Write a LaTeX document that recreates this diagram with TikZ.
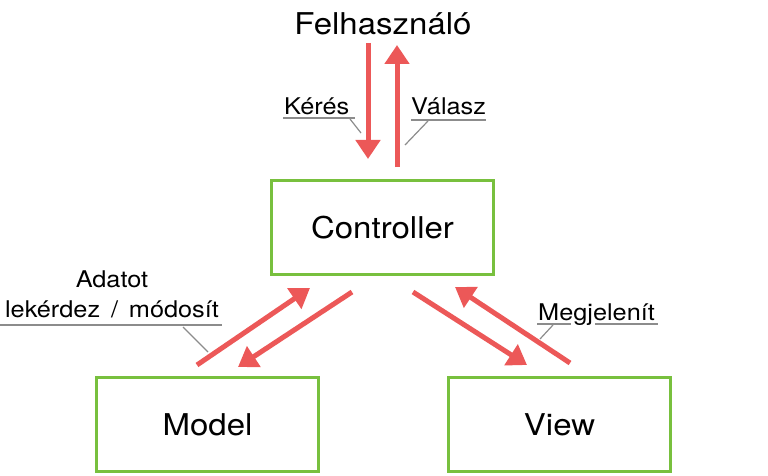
\documentclass[tikz,border=0pt]{standalone}
\usepackage{fontspec}
\setmainfont{TeX Gyre Heros}[FakeStretch=1.1]
\usetikzlibrary{arrows.meta}
\definecolor{boxgreen}{RGB}{120,192,62}
\definecolor{arrred}{RGB}{236,88,88}
\definecolor{leadgray}{RGB}{140,140,140}
\tikzset{
  mvcbox/.style={draw=boxgreen, line width=3.8pt, minimum width=222pt, minimum height=94pt, inner sep=0pt, font=\fontsize{30}{36}\selectfont, text=black},
  bigtext/.style={inner sep=0pt, font=\fontsize{30}{36}\selectfont},
  flow/.style={draw=arrred, line width=5pt, -{Triangle[length=19pt,width=24pt]}},
  lbl/.style={inner sep=0pt, font=\fontsize{23}{28}\selectfont},
  uline/.style={draw=leadgray, line width=1.5pt},
  leader/.style={draw=leadgray, line width=1.2pt},
}
\begin{document}
\begin{tikzpicture}[x=1pt,y=-1pt]
\useasboundingbox (0,0) rectangle (768,476);
% boxes
\node[mvcbox] (ctrl) at (382.5,227.5) {Controller};
\node[mvcbox] (model) at (207.5,424.5) {Model};
\node[mvcbox] (view) at (559.5,424.5) {View};
\node[bigtext, anchor=base] (user) at (383,35) {Felhasználó};
% arrow end points
\coordinate (k1) at (368,43);  \coordinate (k2) at (368,159);
\coordinate (v1) at (397,167); \coordinate (v2) at (397,45);
\coordinate (mu1) at (197,365); \coordinate (mu2) at (310,288);
\coordinate (md1) at (352,292); \coordinate (md2) at (238,367);
\coordinate (vd1) at (413,292); \coordinate (vd2) at (527,365);
\coordinate (vu1) at (570,363); \coordinate (vu2) at (455,287);
\draw[flow] (k1) -- (k2);
\draw[flow] (v1) -- (v2);
\draw[flow] (mu1) -- (mu2);
\draw[flow] (md1) -- (md2);
\draw[flow] (vd1) -- (vd2);
\draw[flow] (vu1) -- (vu2);
% labels
\node[lbl, anchor=base west] (keres) at (284,114) {Kérés};
\draw[uline] (283,118) -- (355,118);
\coordinate (kl1) at (350,119); \coordinate (kl2) at (361,133);
\draw[leader] (kl1) -- (kl2);
\node[lbl, anchor=base west] (valasz) at (411,115) {Válasz};
\draw[uline] (411,120) -- (486,120);
\coordinate (vl1) at (428,121); \coordinate (vl2) at (405,145);
\draw[leader] (vl1) -- (vl2);
\node[lbl, anchor=base] (adatot) at (112,287) {Adatot};
\node[lbl, anchor=base] (lekerdez) at (112,317) {lekérdez \,/\, módosít};
\draw[uline] (0,325) -- (222,325);
\coordinate (al1) at (183,327); \coordinate (al2) at (208,352);
\draw[leader] (al1) -- (al2);
\node[lbl, anchor=base west] (megj) at (538,320) {Megjelenít};
\draw[uline] (537,324) -- (571,324);
\draw[uline] (595,324) -- (658,324);
\coordinate (ml1) at (553,325); \coordinate (ml2) at (540,339);
\draw[leader] (ml1) -- (ml2);
\end{tikzpicture}
\end{document}
